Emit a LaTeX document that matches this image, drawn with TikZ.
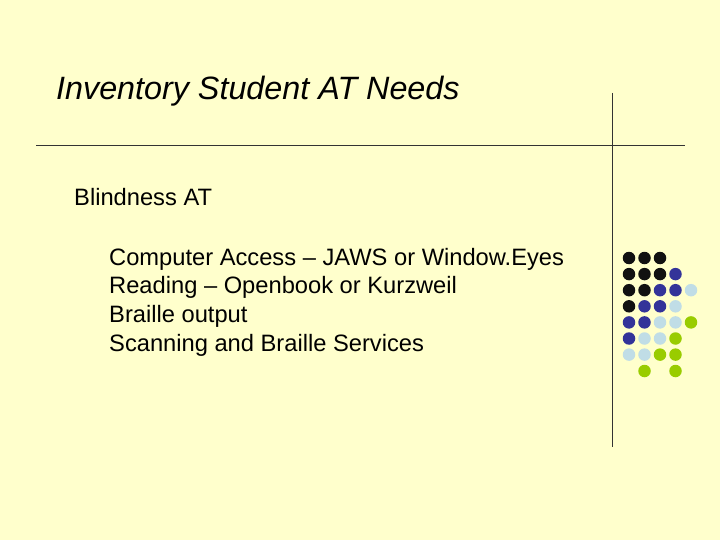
\documentclass[tikz,border=0pt]{standalone}
\usepackage{fontspec}
\setmainfont{Liberation Sans}
\begin{document}
\begin{tikzpicture}[x=1pt,y=-1pt,
  txt/.style={anchor=base west,inner sep=0pt,font=\fontsize{23.7}{28}\selectfont},
  dot/.style={circle,inner sep=0pt,minimum size=12.5pt}]
\definecolor{bg}{HTML}{FFFFCC}
\definecolor{cK}{HTML}{111111}
\definecolor{cB}{HTML}{333399}
\definecolor{cL}{HTML}{C0DDE6}
\definecolor{cG}{HTML}{99CC00}
\fill[bg] (0,0) rectangle (720,540);
\useasboundingbox (0,0) rectangle (720,540);
\coordinate (h1) at (36,145); \coordinate (h2) at (685,145);
\coordinate (v1) at (612,93); \coordinate (v2) at (612,447);
\draw[line width=0.8pt,black!80] (h1) -- (h2);
\draw[line width=0.8pt,black!80] (v1) -- (v2);
\node[anchor=base west,inner sep=0pt,font=\fontsize{32.3}{36}\selectfont\itshape] (title) at (56,100) {Inventory Student AT Needs};
\node[txt] (b) at (74,206) {Blindness AT};
\node[txt] (i1) at (109,265) {Computer Access -- JAWS or Window.Eyes};
\node[txt] (i2) at (109,293) {Reading -- Openbook or Kurzweil};
\node[txt] (i3) at (109,322) {Braille output};
\node[txt] (i4) at (109,351) {Scanning and Braille Services};
\foreach \row/\cols in {0/{K,K,K},1/{K,K,K,B},2/{K,K,B,B,L},3/{K,B,B,L},4/{B,B,L,L,G},5/{B,L,L,G},6/{L,L,G,G}}{
  \foreach \c [count=\i from 0] in \cols {
    \node[dot,fill=c\c] (d\row\i) at ({629+15.5*\i},{258+16.1*\row}) {};
  }
}
\node[dot,fill=cG] (d71) at ({629+15.5},371) {};
\node[dot,fill=cG] (d73) at ({629+46.5},371) {};
\end{tikzpicture}
\end{document}
